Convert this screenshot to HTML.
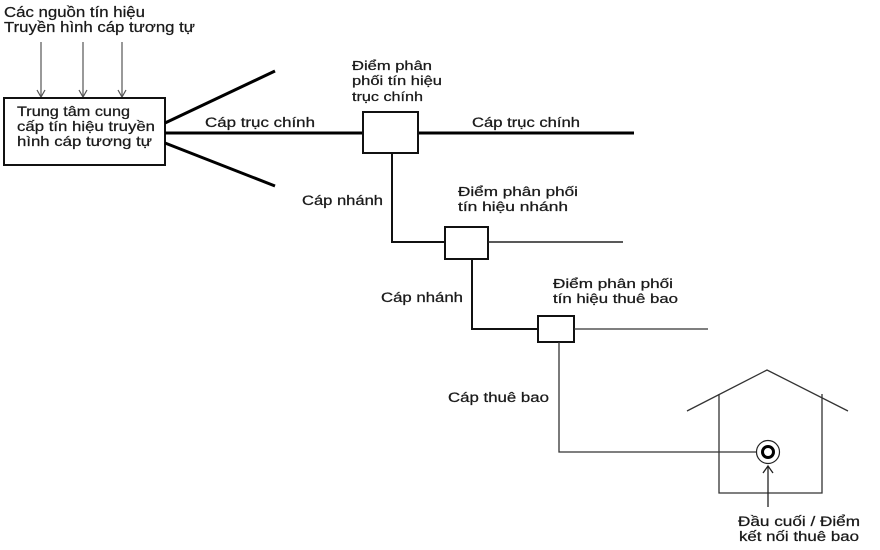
<!DOCTYPE html>
<html><head><meta charset="utf-8"><style>
html,body{margin:0;padding:0;background:#fff;}
svg{display:block;}
text{font-family:"Liberation Sans",Arial,sans-serif;fill:#1a1a1a;stroke:#1a1a1a;stroke-width:0.25;}
</style></head><body>
<svg width="880" height="550" viewBox="0 0 880 550" xmlns="http://www.w3.org/2000/svg">
<rect width="880" height="550" fill="#fff" stroke="none"/>
<!-- top label -->
<text x="4" y="17" font-size="15" textLength="141" lengthAdjust="spacingAndGlyphs">Các nguồn tín hiệu</text>
<text x="4" y="32" font-size="15" textLength="191" lengthAdjust="spacingAndGlyphs">Truyền hình cáp tương tự</text>
<!-- input arrows -->
<g stroke="#555" stroke-width="1.2" fill="none">
<line x1="41" y1="42" x2="41" y2="97"/><polyline points="37,90 41,97 45,90"/>
<line x1="83" y1="42" x2="83" y2="97"/><polyline points="79,90 83,97 87,90"/>
<line x1="122" y1="42" x2="122" y2="97"/><polyline points="118,90 122,97 126,90"/>
</g>
<!-- head end box -->
<rect x="4" y="98" width="161" height="67" fill="none" stroke="#111" stroke-width="2"/>
<text x="17" y="116" font-size="14" textLength="113" lengthAdjust="spacingAndGlyphs">Trung tâm cung</text>
<text x="17" y="131" font-size="14" textLength="138" lengthAdjust="spacingAndGlyphs">cấp tín hiệu truyền</text>
<text x="17" y="146" font-size="14" textLength="135" lengthAdjust="spacingAndGlyphs">hình cáp tương tự</text>
<!-- trunk lines -->
<g stroke="#000" stroke-width="3" fill="none">
<line x1="165" y1="123" x2="275" y2="71"/>
<line x1="165" y1="143" x2="275" y2="186"/>
<line x1="165" y1="133" x2="363" y2="133"/>
<line x1="418" y1="133" x2="634" y2="133"/>
</g>
<text x="205" y="127" font-size="13.5" textLength="110" lengthAdjust="spacingAndGlyphs">Cáp trục chính</text>
<text x="472" y="127" font-size="13.5" textLength="108" lengthAdjust="spacingAndGlyphs">Cáp trục chính</text>
<!-- box 1 -->
<rect x="363" y="112" width="55" height="41" fill="#fff" stroke="#111" stroke-width="2"/>
<text x="352" y="70" font-size="13" textLength="80" lengthAdjust="spacingAndGlyphs">Điểm phân</text>
<text x="352" y="85" font-size="13" textLength="90" lengthAdjust="spacingAndGlyphs">phối tín hiệu</text>
<text x="352" y="101" font-size="13" textLength="71" lengthAdjust="spacingAndGlyphs">trục chính</text>
<!-- branch 1 -->
<polyline points="392,153 392,242 445,242" fill="none" stroke="#111" stroke-width="2"/>
<rect x="445" y="227" width="43" height="32" fill="#fff" stroke="#111" stroke-width="2"/>
<line x1="488" y1="242" x2="623" y2="242" stroke="#222" stroke-width="1.5"/>
<text x="302" y="205" font-size="13.5" textLength="81" lengthAdjust="spacingAndGlyphs">Cáp nhánh</text>
<text x="458" y="196" font-size="13" textLength="120" lengthAdjust="spacingAndGlyphs">Điểm phân phối</text>
<text x="458" y="211" font-size="13" textLength="110" lengthAdjust="spacingAndGlyphs">tín hiệu nhánh</text>
<!-- branch 2 -->
<polyline points="472,259 472,329 538,329" fill="none" stroke="#111" stroke-width="2"/>
<rect x="538" y="316" width="36" height="26" fill="#fff" stroke="#111" stroke-width="2"/>
<line x1="574" y1="329" x2="708" y2="329" stroke="#333" stroke-width="1.3"/>
<text x="381" y="302" font-size="13.5" textLength="82" lengthAdjust="spacingAndGlyphs">Cáp nhánh</text>
<text x="553" y="288" font-size="13" textLength="120" lengthAdjust="spacingAndGlyphs">Điểm phân phối</text>
<text x="553" y="303" font-size="13" textLength="125" lengthAdjust="spacingAndGlyphs">tín hiệu thuê bao</text>
<!-- subscriber cable -->
<polyline points="559,342 559,452 756,452" fill="none" stroke="#333" stroke-width="1.3"/>
<text x="448" y="402" font-size="13.5" textLength="101" lengthAdjust="spacingAndGlyphs">Cáp thuê bao</text>
<!-- house -->
<g stroke="#333" stroke-width="1.3" fill="none">
<polyline points="687,411 767,370 848,411"/>
<polyline points="719,394 719,493 822,493 822,394"/>
</g>
<circle cx="768" cy="452" r="11.5" fill="#fff" stroke="#222" stroke-width="1.2"/>
<circle cx="768" cy="452" r="5.5" fill="none" stroke="#000" stroke-width="3"/>
<g stroke="#222" stroke-width="1.3" fill="none">
<line x1="768" y1="507" x2="768" y2="467"/>
<polyline points="763,473 768,466 773,473"/>
</g>
<text x="738" y="526" font-size="13.5" textLength="122" lengthAdjust="spacingAndGlyphs">Đầu cuối / Điểm</text>
<text x="739" y="541" font-size="13.5" textLength="120" lengthAdjust="spacingAndGlyphs">kết nối thuê bao</text>
</svg>
</body></html>
